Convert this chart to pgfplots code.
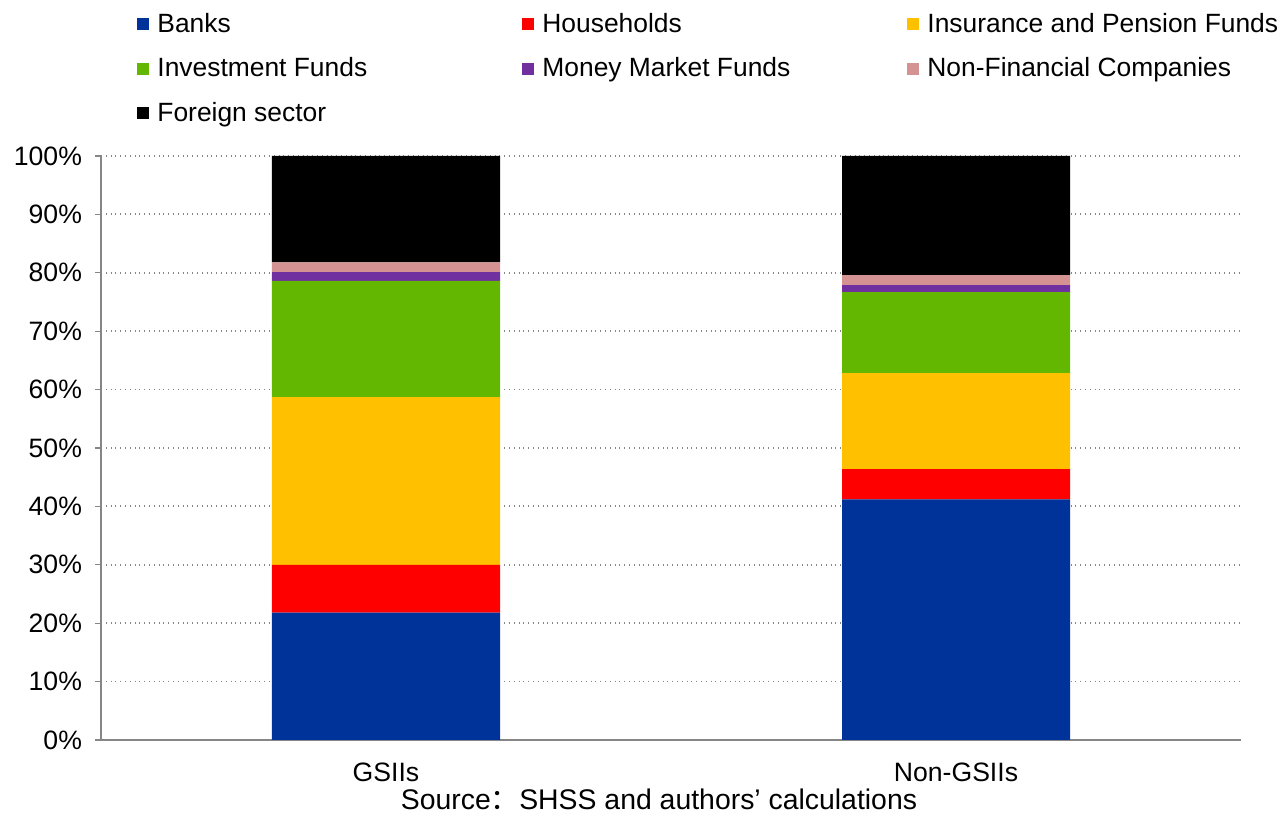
\documentclass[border=0pt]{standalone}
\usepackage{fontspec}
\setmainfont{Liberation Sans}
\newfontfamily\cjk{Noto Sans CJK SC}
\usepackage{pgfplots}
\pgfplotsset{compat=1.18}
\definecolor{cBanks}{RGB}{0,51,153}
\definecolor{cHH}{RGB}{255,0,0}
\definecolor{cIns}{RGB}{255,192,0}
\definecolor{cInv}{RGB}{99,183,0}
\definecolor{cMMF}{RGB}{112,48,160}
\definecolor{cNFC}{RGB}{213,146,146}
\definecolor{cFor}{RGB}{0,0,0}
\definecolor{axgray}{RGB}{134,134,134}
\newcommand{\lent}[1]{\hspace{2pt}\makebox[180.5pt][l]{#1}}
\begin{document}
\begin{tikzpicture}
\useasboundingbox (-50.5pt,-36.5pt) rectangle (589.5pt,370pt);
\begin{axis}[
  scale only axis,
  width=570pt, height=292pt,
  ybar stacked, bar width=114pt,
  xmin=-0.5, xmax=1.5, ymin=0, ymax=100,
  xtick={0,1}, xticklabels={GSIIs,Non-GSIIs},
  x tick style={draw=none},
  extra x ticks={-0.5,0.5,1.5}, extra x tick labels={},
  extra x tick style={major tick length=4pt, tick style={draw=axgray, line width=0.6pt}},
  ytick={0,10,...,100},
  yticklabel={\pgfmathprintnumber{\tick}\%},
  /pgf/number format/assume math mode=true,
  tick align=outside,
  major tick length=3pt,
  y tick style={draw=axgray, line width=0.6pt},
  ymajorgrids,
  grid style={dotted, draw=axgray, line width=0.9pt},
  axis x line*=bottom, axis y line*=left,
  axis line style={draw=axgray, line width=0.6pt},
  ticklabel style={font=\fontsize{13.3}{16}\selectfont},
  xticklabel style={yshift=-5pt},
  yticklabel style={xshift=-3pt},
  xlabel={Source{\cjk ：}SHSS and authors’ calculations},
  xlabel style={font=\fontsize{14.2}{16}\selectfont, yshift=10.5pt, xshift=-6pt},
  legend columns=3,
  legend cell align=left,
  legend style={at={(axis description cs:0.0316,1.252)}, anchor=north west, draw=none, fill=none,
    font=\fontsize{13.2}{16}\selectfont, row sep=7.2pt, column sep=0pt, inner sep=0pt},
  legend image code/.code={\fill[#1] (0pt,-3pt) rectangle (6pt,3pt);},
]
\addplot[fill=cBanks, draw=none] coordinates {(0,21.8) (1,41.2)};
\addlegendentry{\lent{Banks}}
\addplot[fill=cHH, draw=none] coordinates {(0,8.2) (1,5.2)};
\addlegendentry{\lent{Households}}
\addplot[fill=cIns, draw=none] coordinates {(0,28.7) (1,16.4)};
\addlegendentry{\hspace{2pt}Insurance and Pension Funds}
\addplot[fill=cInv, draw=none] coordinates {(0,19.9) (1,13.9)};
\addlegendentry{\lent{Investment Funds}}
\addplot[fill=cMMF, draw=none] coordinates {(0,1.5) (1,1.2)};
\addlegendentry{\lent{Money Market Funds}}
\addplot[fill=cNFC, draw=none] coordinates {(0,1.7) (1,1.7)};
\addlegendentry{\hspace{2pt}Non-Financial Companies}
\addplot[fill=cFor, draw=none] coordinates {(0,18.2) (1,20.4)};
\addlegendentry{\hspace{2pt}Foreign sector}
\end{axis}
\end{tikzpicture}
\end{document}
